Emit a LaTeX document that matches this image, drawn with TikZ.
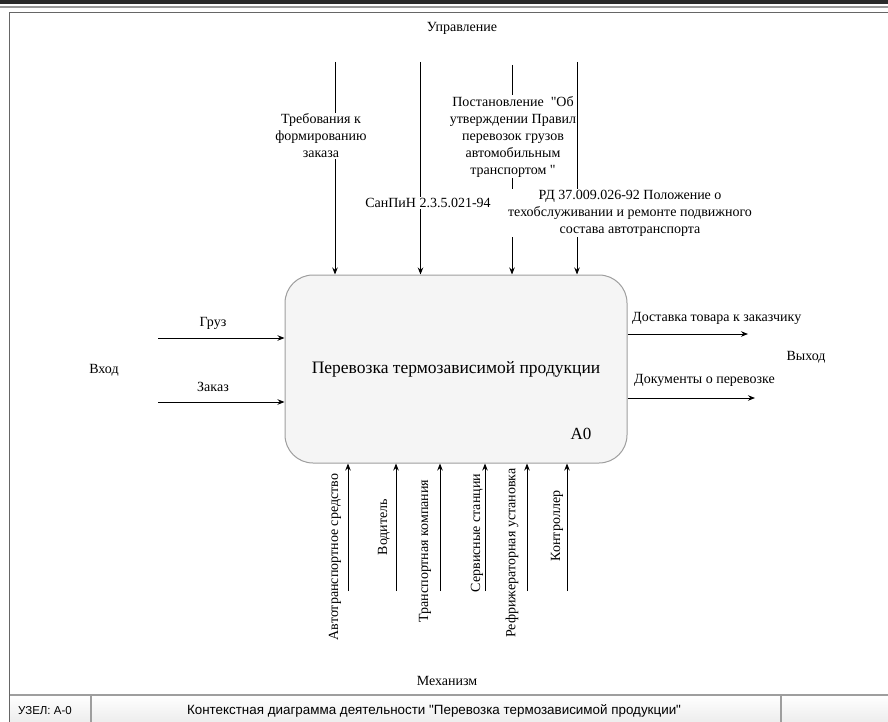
\documentclass[tikz,border=0pt]{standalone}
\usepackage{fontspec}
\setmainfont{Liberation Serif}[Ligatures=TeXOff]
\newfontfamily\serifont{Liberation Serif}[Ligatures=TeXOff]
\newfontfamily\footfont{Liberation Sans}[Ligatures=TeXOff]
\usetikzlibrary{arrows.meta}
\pgfdeclarelayer{bg}
\pgfsetlayers{bg,main}
\definecolor{boxfill}{HTML}{F5F5F5}
\definecolor{boxline}{HTML}{9E9E9E}
\definecolor{frameline}{HTML}{666666}
\definecolor{darkband}{HTML}{2A2A2A}
\definecolor{footbot}{HTML}{EDEDED}
\tikzset{
  lbl/.style={font=\serifont\fontsize{14}{17}\selectfont, inner sep=1pt, align=center, fill=white},
  plain/.style={font=\serifont\fontsize{14}{17}\selectfont, inner sep=1pt},
  arr/.style={-{Stealth[length=7pt,width=5.5pt]}, line width=0.9pt, black},
  foot/.style={font=\footfont\fontsize{13.4}{15}\selectfont, inner sep=1pt},
  framel/.style={draw=frameline, line width=1.4pt}
}
\begin{document}
\begin{tikzpicture}[x=1pt,y=-1pt]
\useasboundingbox (0,0) rectangle (888,722);
% header bands and frame
\fill[darkband] (0,0) rectangle (888,4.5);
\draw[color=gray!80, line width=1.6pt] (0,6.8) -- (888,6.8);
\shade[top color=white, bottom color=footbot] (9.5,695) rectangle (888,722);
\draw[framel] (9.5,722) -- (9.5,12.5) -- (888,12.5);
\draw[draw=boxline, line width=1.4pt] (9.5,695) -- (888,695);
\draw[draw=boxline, line width=1.4pt] (91,695) -- (91,722);
\draw[draw=boxline, line width=1.4pt] (781,695) -- (781,722);
\node[foot, font=\footfont\fontsize{11.5}{14}\selectfont] (node) at (45,711) {УЗЕЛ: А-0};
\node[foot] (ftitle) at (434,711) {Контекстная диаграмма деятельности "Перевозка термозависимой продукции"};

% main box
\node[draw=boxline, fill=boxfill, line width=1pt, rounded corners=28pt,
      minimum width=342pt, minimum height=188pt, inner sep=0pt,
      font=\serifont\fontsize{17.5}{21}\selectfont] (box) at (456,369) {Перевозка термозависимой продукции};
\node[font=\serifont\fontsize{17}{20}\selectfont, inner sep=0pt] (a0) at (581,434) {A0};

% section captions
\node[plain] (ctrl) at (462,28) {Управление};
\node[plain] (mech) at (447,681) {Механизм};
\node[plain] (inp) at (104,370) {Вход};
\node[plain] (outp) at (806,357) {Выход};

% control arrows
\coordinate (t1) at (335,62);
\coordinate (t2) at (420.5,62);
\coordinate (t3) at (512,65);
\coordinate (t4) at (577,62);
\begin{pgfonlayer}{bg}
\draw[arr] (t1) -- (t1 |- box.north);
\draw[arr] (t2) -- (t2 |- box.north);
\draw[arr] (t3) -- (t3 |- box.north);
\draw[arr] (t4) -- (t4 |- box.north);
\end{pgfonlayer}
\node[lbl] (l1) at (321,136) {Требования к\\формированию\\заказа};
\node[lbl] (l2) at (428,203) {СанПиН 2.3.5.021-94};
\node[lbl] (l3) at (513,136.5) {Постановление~~"Об\\утверждении Правил\\перевозок грузов\\автомобильным\\транспортом~"};
\node[lbl] (l4) at (630,213) {РД 37.009.026-92 Положение о\\техобслуживании и ремонте подвижного\\состава автотранспорта};

% inputs
\coordinate (i1) at (158,338);
\coordinate (i2) at (158,402);
\draw[arr] (i1) -- (i1 -| box.west);
\draw[arr] (i2) -- (i2 -| box.west);
\node[plain] (li1) at (213,323) {Груз};
\node[plain] (li2) at (213,387) {Заказ};

% outputs
\coordinate (o1) at (748,334);
\coordinate (o2) at (755,398);
\draw[arr] (o1 -| box.east) -- (o1);
\draw[arr] (o2 -| box.east) -- (o2);
\node[plain, anchor=west] (lo1) at (631,318) {Доставка товара к заказчику};
\node[plain, anchor=west] (lo2) at (633,380) {Документы о перевозке};

% mechanisms
\coordinate (b1) at (348,591);
\coordinate (b2) at (396,591);
\coordinate (b3) at (440,591);
\coordinate (b4) at (485,591);
\coordinate (b5) at (527,591);
\coordinate (b6) at (567,591);
\draw[arr] (b1) -- (b1 |- box.south);
\draw[arr] (b2) -- (b2 |- box.south);
\draw[arr] (b3) -- (b3 |- box.south);
\draw[arr] (b4) -- (b4 |- box.south);
\draw[arr] (b5) -- (b5 |- box.south);
\draw[arr] (b6) -- (b6 |- box.south);
\node[plain, rotate=90] (m1) at (335,557) {Автотранспортное средство};
\node[plain, rotate=90] (m2) at (384,527) {Водитель};
\node[plain, rotate=90] (m3) at (425,551) {Транспортная компания};
\node[plain, rotate=90] (m4) at (477,533) {Сервисные станции};
\node[plain, rotate=90] (m5) at (512,553) {Рефрижераторная установка};
\node[plain, rotate=90] (m6) at (557,526) {Контроллер};
\end{tikzpicture}
\end{document}
